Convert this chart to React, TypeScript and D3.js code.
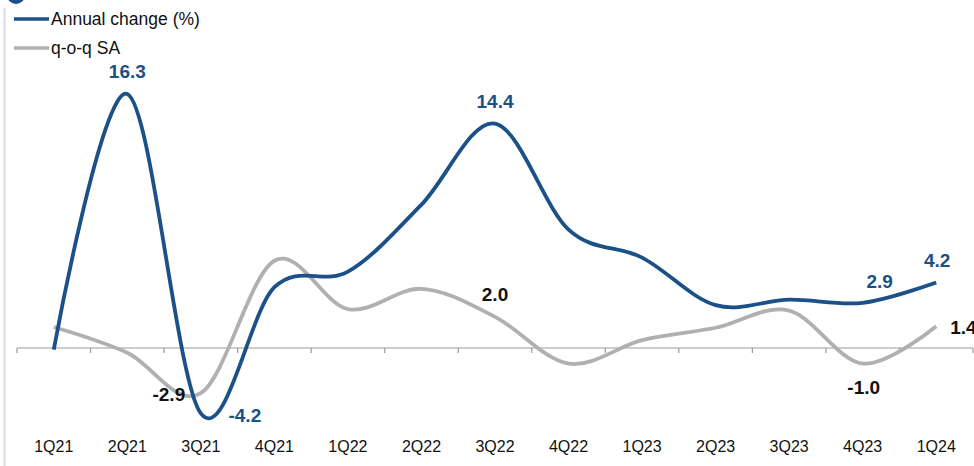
import React from "react";
import * as d3 from "d3";

const quarters = ["1Q21","2Q21","3Q21","4Q21","1Q22","2Q22","3Q22","4Q22","1Q23","2Q23","3Q23","4Q23","1Q24"];
const annualChange = [-0.1, 16.3, -4.2, 3.9, 4.9, 9.2, 14.4, 7.6, 5.8, 2.75, 3.1, 2.9, 4.2];
const qoqSA = [1.35, -0.3, -2.9, 5.6, 2.5, 3.8, 2.0, -1.0, 0.5, 1.3, 2.4, -1.0, 1.4];

// Labelled points: [index, dx, dy, anchor]
type Lbl = [number, number, number, string];
const annualLabels: Lbl[] = [[1, 0, -16, "middle"], [2, 44, 9, "middle"], [6, 0, -16, "middle"], [11, 17, -15, "middle"], [12, 1, -16, "middle"]];
const qoqLabels: Lbl[] = [[2, -32, 8, "middle"], [6, 0, -16, "middle"], [11, 1, 30, "middle"], [12, 14, 8, "start"]];

const W = 974, H = 466;
const BLUE = "#1b5088";
const GREY = "#b0b0b0";

export default function App() {
  const x = d3.scaleBand<string>().domain(quarters).range([17, 973]);
  const y = d3.scaleLinear().domain([0, 16.3]).range([348, 94]);
  const cx = (i: number) => (x(quarters[i]) as number) + x.bandwidth() / 2;
  const line = d3.line<number>().x((_, i) => cx(i)).y(d => y(d)).curve(d3.curveCardinal.tension(0));
  const ticks = [...quarters.map(q => x(q) as number), 973];

  return (
    <svg width={W} height={H} style={{ position: "absolute", left: 0, top: 0, fontFamily: "Liberation Sans, Arial, sans-serif" }}>
      <rect width={W} height={H} fill="#fff" />
      <circle cx={16} cy={-5} r={9} fill={BLUE} />
      <line x1={4.5} x2={4.5} y1={8} y2={466} stroke="#d9d9ee" strokeWidth={2} />
      {/* legend */}
      <line x1={14} x2={49} y1={19} y2={19} stroke={BLUE} strokeWidth={3.5} />
      <text x={51} y={25} fontSize={17.5} fill="#111">Annual change (%)</text>
      <line x1={14} x2={49} y1={48} y2={48} stroke={GREY} strokeWidth={3.5} />
      <text x={51} y={54} fontSize={17.5} fill="#111">q-o-q SA</text>
      {/* zero axis */}
      <line x1={17} x2={973} y1={y(0)} y2={y(0)} stroke="#9a9a9a" strokeWidth={1.2} />
      {ticks.map((t, i) => (
        <line key={i} x1={t} x2={t} y1={y(0)} y2={y(0) + 5} stroke="#9a9a9a" strokeWidth={1.2} />
      ))}
      {quarters.map((q, i) => (
        <text key={q} x={cx(i)} y={452} fontSize={16} textAnchor="middle" fill="#111">{q}</text>
      ))}
      <path d={line(qoqSA) || ""} fill="none" stroke={GREY} strokeWidth={3.8} />
      <path d={line(annualChange) || ""} fill="none" stroke={BLUE} strokeWidth={3.8} />
      {annualLabels.map(([i, dx, dy, anchor]) => (
        <text key={"a" + i} x={cx(i) + dx} y={y(annualChange[i]) + dy} fontSize={19} fontWeight="bold" textAnchor={anchor} fill={BLUE}>
          {annualChange[i].toFixed(1)}
        </text>
      ))}
      {qoqLabels.map(([i, dx, dy, anchor]) => (
        <text key={"q" + i} x={cx(i) + dx} y={y(qoqSA[i]) + dy} fontSize={19} fontWeight="bold" textAnchor={anchor} fill="#111">
          {qoqSA[i].toFixed(1)}
        </text>
      ))}
    </svg>
  );
}
